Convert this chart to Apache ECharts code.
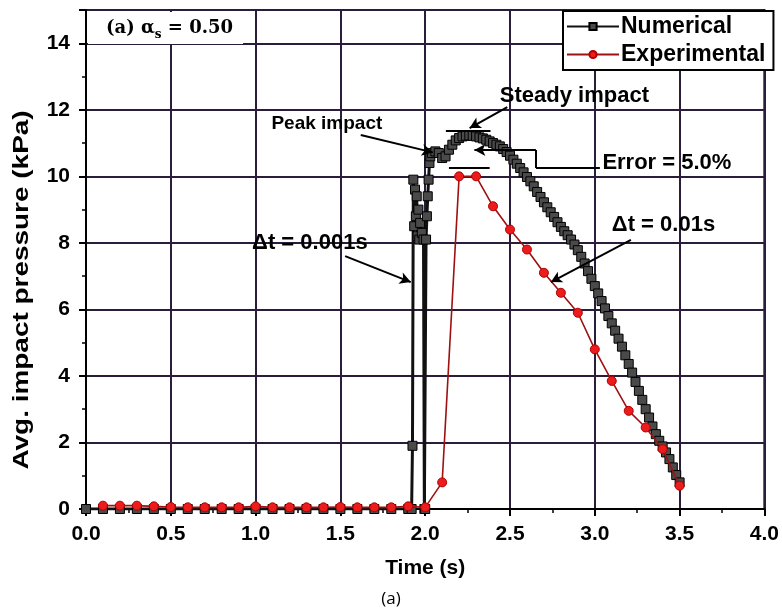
<!DOCTYPE html>
<html><head><meta charset="utf-8">
<script src="https://cdn.jsdelivr.net/npm/echarts@6/dist/echarts.min.js"></script>
<style>html,body{margin:0;padding:0;background:#fff}#c{width:782px;height:611px}</style>
</head><body><div id="c"></div>
<script>
// ---- data ----
const numTime = [0.0,0.1,0.2,0.3,0.4,0.5,0.6,0.7,0.8,0.9,1.0,1.1,1.2,1.3,1.4,1.5,1.6,1.7,1.8,1.9,1.92,
  1.925,1.93,1.935,1.94,1.945,1.95,1.955,1.96,1.965,1.97,1.98,1.99,1.995,2.0,2.005,2.01,2.015,2.02,2.025,2.03,
  2.04,2.06,2.08,2.10,2.12,2.14,2.16,2.18,2.20,2.22,2.24,2.26,2.28,2.30,2.32,2.34,2.36,2.38,2.40,
  2.42,2.44,2.46,2.48,2.50,2.52,2.54,2.56,2.58,2.60,2.62,2.64,2.66,2.68,2.70,2.72,2.74,2.76,2.78,2.80,
  2.82,2.84,2.86,2.88,2.90,2.92,2.94,2.96,2.98,3.00,3.02,3.04,3.06,3.08,3.10,3.12,3.14,3.16,3.18,3.20,
  3.22,3.24,3.26,3.28,3.30,3.32,3.34,3.36,3.38,3.40,3.42,3.44,3.46,3.48,3.50];
const numPressure = [0,0,0,0,0,0,0,0,0,0,0,0,0,0,0,0,0,0,0,0,0,
  1.9,9.9,8.5,9.6,8.8,9.4,8.2,9.0,8.1,8.6,8.3,8.1,0.0,0.0,8.1,8.8,9.4,9.9,10.4,10.6,
  10.7,10.75,10.7,10.55,10.6,10.8,10.95,11.08,11.15,11.2,11.22,11.23,11.22,11.2,11.17,11.14,11.1,11.05,11.0,
  10.95,10.9,10.82,10.73,10.62,10.5,10.38,10.25,10.12,9.98,9.85,9.7,9.53,9.38,9.22,9.07,8.92,8.78,8.62,8.48,
  8.35,8.23,8.1,7.95,7.78,7.58,7.38,7.15,6.92,6.7,6.48,6.25,6.03,5.8,5.58,5.36,5.12,4.88,4.62,4.36,
  4.1,3.82,3.55,3.28,3.0,2.75,2.48,2.25,2.05,1.88,1.7,1.5,1.25,1.02,0.8];
const expTime = [0.1,0.2,0.3,0.4,0.5,0.6,0.7,0.8,0.9,1.0,1.1,1.2,1.3,1.4,1.5,1.6,1.7,1.8,1.9,2.0,
  2.1,2.2,2.3,2.4,2.5,2.6,2.7,2.8,2.9,3.0,3.1,3.2,3.3,3.4,3.5];
const expPressure = [0.1,0.1,0.1,0.08,0.06,0.05,0.05,0.05,0.05,0.08,0.05,0.05,0.05,0.05,0.06,0.05,0.05,0.05,0.08,0.05,
  0.8,10.0,10.0,9.1,8.4,7.8,7.1,6.5,5.9,4.8,3.85,2.95,2.45,1.8,0.7];
const seriesNames = ['Numerical','Experimental'];
const xTickValues = [0.0,0.5,1.0,1.5,2.0,2.5,3.0,3.5,4.0];
const yTickValues = [0,2,4,6,8,10,12,14];

// annotations in data coordinates
const annTexts = [
  {text:'Peak impact', at:[1.42,11.57], size:19},
  {text:'Steady impact', at:[2.88,12.41], size:22},
  {text:'Error = 5.0%', at:[3.425,10.40], size:22},
  {text:'\u0394t = 0.001s', at:[1.32,8.0], size:22},
  {text:'\u0394t = 0.01s', at:[3.405,8.54], size:22}
];
const annArrows = [
  [[1.62,11.24],[2.045,10.72],true],
  [[2.484,12.08],[2.262,11.45],true],
  [[1.528,7.60],[1.915,6.82],true],
  [[3.213,8.09],[2.741,6.82],true],
  [[3.03,10.25],[2.653,10.25],false],
  [[2.653,10.25],[2.653,10.79],false],
  [[2.653,10.79],[2.29,10.79],true],
  [[2.122,11.36],[2.385,11.36],false],
  [[2.14,10.25],[2.38,10.25],false]
];

const FONT = '"Liberation Sans", Arial, sans-serif';
const numData = numTime.map((t,i)=>[t,numPressure[i]]);
const expData = expTime.map((t,i)=>[t,expPressure[i]]);

const chart = echarts.init(document.getElementById('c'), null, {renderer:'canvas'});
const axisCommon = {
  axisLine:{show:true,onZero:false,lineStyle:{color:'#000',width:2}},
  axisTick:{show:true,inside:false,length:7,lineStyle:{color:'#000',width:2}},
  minorTick:{show:true,splitNumber:2,length:4,lineStyle:{color:'#000',width:1.5}},
  splitLine:{show:true,lineStyle:{color:'#2a1d3c',width:2}},
  minorSplitLine:{show:false}
};
chart.setOption({
  animation:false,
  backgroundColor:'#fff',
  grid:{left:86,top:10,right:10,bottom:102,show:true,borderColor:'#000',borderWidth:2,containLabel:false},
  xAxis:Object.assign({
    type:'value',min:0,max:4,interval:0.5,
    axisLabel:{color:'#000',fontFamily:FONT,fontWeight:'bold',fontSize:21,margin:15,
      formatter:v=>{const m=xTickValues.find(x=>Math.abs(x-v)<1e-9);return m===undefined?'':m.toFixed(1);}},
    name:'Time (s)',nameLocation:'middle',nameGap:49,
    nameTextStyle:{color:'#000',fontFamily:FONT,fontWeight:'bold',fontSize:21}
  },axisCommon),
  yAxis:Object.assign({
    type:'value',min:0,max:15,interval:2,
    axisLabel:{color:'#000',fontFamily:FONT,fontWeight:'bold',fontSize:21,margin:16,showMaxLabel:false,
      formatter:v=>{const m=yTickValues.find(x=>Math.abs(x-v)<1e-9);return m===undefined?'':String(m);}}
  },axisCommon),
  legend:{
    data:seriesNames,orient:'vertical',left:563,top:11,
    itemWidth:52,itemHeight:9,itemGap:5,padding:[4,8,4,3],
    backgroundColor:'#fff',borderColor:'#000',borderWidth:2,borderRadius:0,
    textStyle:{color:'#000',fontFamily:FONT,fontWeight:'bold',fontSize:23,padding:[0,0,0,-3]}
  },
  series:[
    {name:seriesNames[0],type:'line',data:numData,z:3,
     symbol:'rect',symbolSize:9,showAllSymbol:true,
     lineStyle:{color:'#111',width:3},
     itemStyle:{color:'#4a4a4a',borderColor:'#000',borderWidth:1}},
    {name:seriesNames[1],type:'line',data:expData,z:4,
     symbol:'circle',symbolSize:9,showAllSymbol:true,
     lineStyle:{color:'#9e1111',width:1.6},
     itemStyle:{color:'#ec1c1c',borderColor:'#b00000',borderWidth:1}},
    {name:'ann',type:'line',data:[],z:5,
     markLine:{silent:true,animation:false,symbolSize:[9,11],
       lineStyle:{color:'#000',width:2,type:'solid'},label:{show:false},
       data:annArrows.map(a=>[{coord:a[0],symbol:'none'},{coord:a[1],symbol:a[2]?'arrow':'none'}])}}
  ]
});

function px(p){return chart.convertToPixel({gridIndex:0},p);}
const graphics = [];
annTexts.forEach(a=>{
  const p = px(a.at);
  graphics.push({type:'text',x:p[0],y:p[1],z:20,style:{text:a.text,fill:'#000',
    font:'bold '+a.size+'px '+FONT,align:'center',verticalAlign:'middle'}});
});
// panel label box
graphics.push({type:'rect',shape:{x:88,y:12,width:155,height:32},style:{fill:'#fff'},z:20});
graphics.push({type:'text',x:106,y:28,z:21,style:{
  text:'{a|(a) \u03b1}{s|s}{a| = 0.50}',verticalAlign:'middle',
  rich:{a:{fontFamily:'"DejaVu Serif", "Liberation Serif", serif',fontWeight:'bold',fontSize:18,lineHeight:26,fill:'#000'},
        s:{fontFamily:'"DejaVu Serif", "Liberation Serif", serif',fontWeight:'bold',fontSize:12,lineHeight:13,verticalAlign:'bottom',fill:'#000'}}}});
// y axis title
graphics.push({type:'text',x:22,y:290,rotation:Math.PI/2,scaleX:1.27,z:20,style:{text:'Avg. impact pressure (kPa)',
  fill:'#000',font:'bold 22px '+FONT,align:'center',verticalAlign:'middle'}});
// figure caption
graphics.push({type:'text',x:391,y:599,z:20,style:{text:'(a)',fill:'#000',
  font:'17px "Open Sans", "DejaVu Sans", sans-serif',align:'center',verticalAlign:'middle'}});
chart.setOption({graphic:graphics});
</script></body></html>
